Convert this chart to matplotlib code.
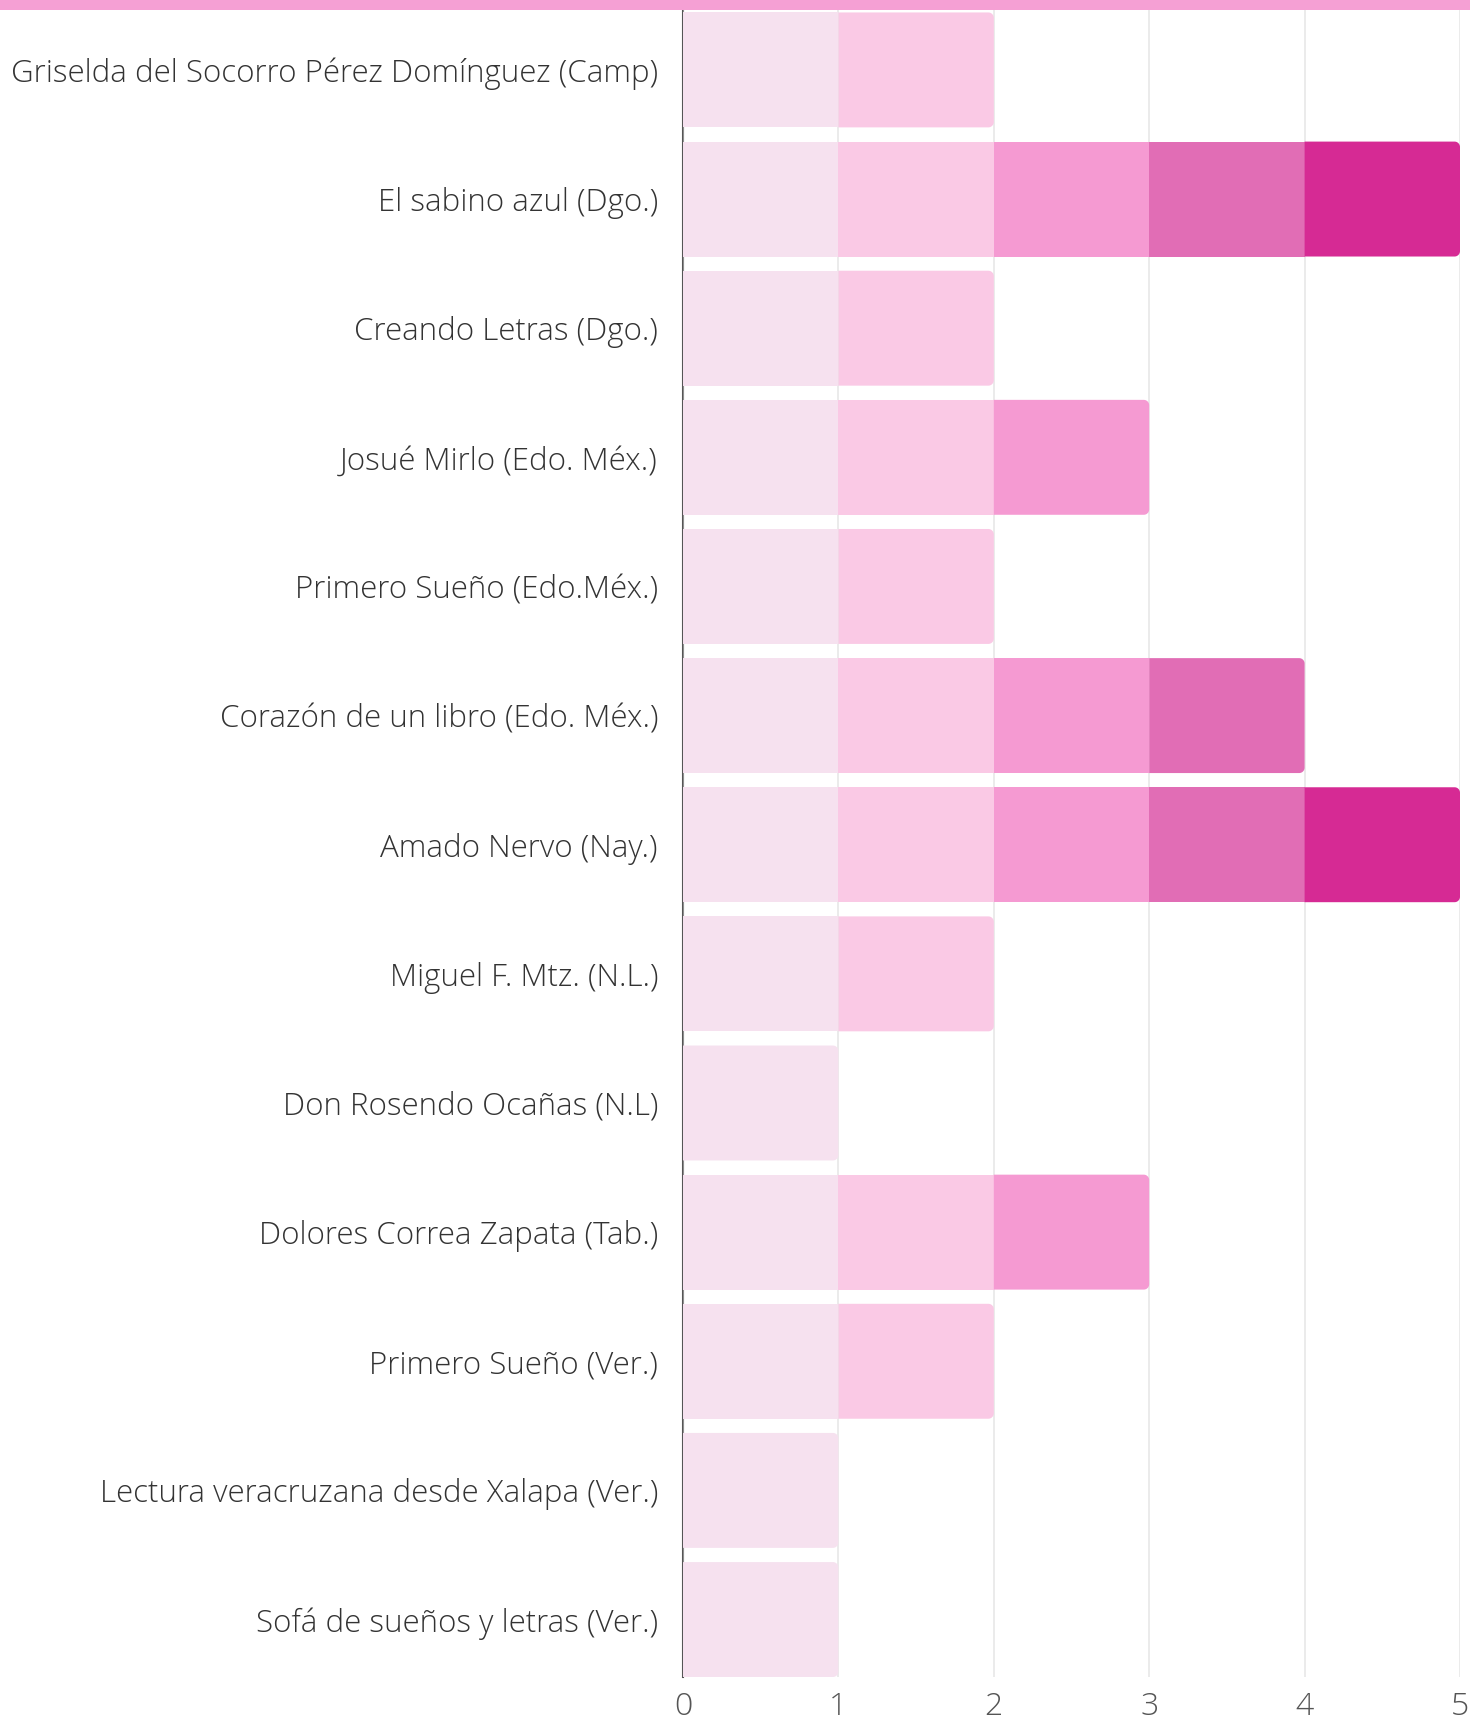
import matplotlib
matplotlib.use("Agg")
import matplotlib.pyplot as plt
from matplotlib.patches import Rectangle, Polygon
import numpy as np

categories = [
    "Griselda del Socorro Pérez Domínguez (Camp)",
    "El sabino azul (Dgo.)",
    "Creando Letras (Dgo.)",
    "Josué Mirlo (Edo. Méx.)",
    "Primero Sueño (Edo.Méx.)",
    "Corazón de un libro (Edo. Méx.)",
    "Amado Nervo (Nay.)",
    "Miguel F. Mtz. (N.L.)",
    "Don Rosendo Ocañas (N.L)",
    "Dolores Correa Zapata (Tab.)",
    "Primero Sueño (Ver.)",
    "Lectura veracruzana desde Xalapa (Ver.)",
    "Sofá de sueños y letras (Ver.)",
]
s1 = [1, 1, 1, 1, 1, 1, 1, 1, 1, 1, 1, 1, 1]
s2 = [1, 1, 1, 1, 1, 1, 1, 1, 0, 1, 1, 0, 0]
s3 = [0, 1, 0, 1, 0, 1, 1, 0, 0, 1, 0, 0, 0]
s4 = [0, 1, 0, 0, 0, 1, 1, 0, 0, 0, 0, 0, 0]
s5 = [0, 1, 0, 0, 0, 0, 1, 0, 0, 0, 0, 0, 0]
series = [s1, s2, s3, s4, s5]
colors = ["#f6e1ef", "#fac9e5", "#f59ad2", "#e16db5", "#d62a94"]
xticks = [0, 1, 2, 3, 4, 5]

plt.rcParams['font.family'] = ['Open Sans', 'DejaVu Sans']

fig = plt.figure(figsize=(14.7, 17.23), dpi=100)
ax = fig.add_axes([683/1470, 1-1677/1723, (1460-683)/1470, (1677-10)/1723])

y = np.arange(len(categories))
h = 0.89
rx, ry = 0.035, 0.042


def rounded_right(x0, x1, yc, col):
    y0, y1 = yc - h/2, yc + h/2
    t = np.linspace(0, np.pi/2, 12)
    pts = [(x0, y0)]
    for a in t[::-1]:
        pts.append((x1 - rx + rx*np.cos(a), y0 + ry - ry*np.sin(a)))
    for a in t:
        pts.append((x1 - rx + rx*np.cos(a), y1 - ry + ry*np.sin(a)))
    pts.append((x0, y1))
    ax.add_patch(Polygon(pts, closed=True, facecolor=col, edgecolor='none', zorder=2))


left = np.zeros(len(categories))
totals = np.sum(series, axis=0)
for vals, col in zip(series, colors):
    vals = np.array(vals, dtype=float)
    for i in range(len(categories)):
        if vals[i] <= 0:
            continue
        if left[i] + vals[i] == totals[i]:
            rounded_right(left[i], left[i] + vals[i], y[i], col)
        else:
            ax.barh(y[i], vals[i], left=left[i], height=h, color=col,
                    edgecolor='none', zorder=2)
    left += vals

ax.set_xlim(0, 5)
ax.set_ylim(12.445, -0.464)
ax.set_yticks(y)
ax.set_yticklabels(categories, fontsize=22.5, color='#333333', fontweight='light')
ax.set_xticks(xticks)
ax.set_xticklabels([str(t) for t in xticks], fontsize=23, color='#555555', fontweight='light')
ax.tick_params(axis='y', length=0, pad=18)
ax.tick_params(axis='x', length=0, pad=10)
ax.grid(axis='x', color='#d4d4d4', linewidth=1.2)
ax.grid(axis='y', visible=False)
for s in ['top', 'right', 'bottom']:
    ax.spines[s].set_visible(False)
ax.spines['left'].set_color('#555555')
ax.spines['left'].set_linewidth(1.5)
ax.spines['left'].set_zorder(0.5)
for gl in ax.get_xgridlines():
    gl.set_alpha(0.55)
    gl.set_zorder(3)

fig.patches.append(Rectangle((0, 1-10/1723), 1, 10/1723, transform=fig.transFigure,
                             facecolor='#f5a0d4', edgecolor='none', zorder=5))

fig.savefig("out.png", dpi=100)
